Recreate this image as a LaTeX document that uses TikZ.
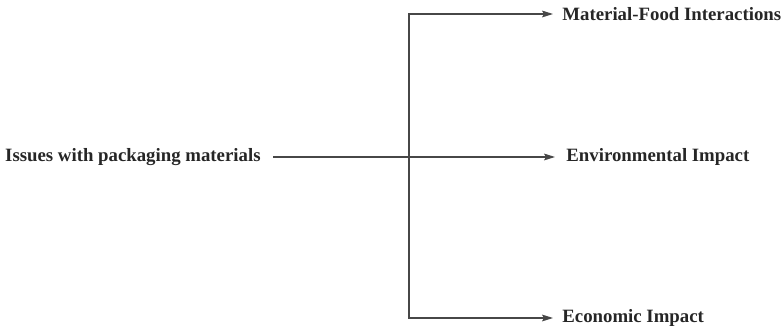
\documentclass[tikz,border=0pt]{standalone}
\usepackage{fontspec}
\setmainfont{Liberation Serif}
\usepackage{xcolor}
\usepackage{tikz}
\usetikzlibrary{arrows.meta}
\definecolor{linegray}{HTML}{474747}
\definecolor{textgray}{HTML}{262626}

\tikzset{
  issue/.style={anchor=west,inner xsep=4.5pt,inner ysep=0pt,text=textgray,
    font=\fontsize{9.4}{11}\selectfont\bfseries},
  branch/.style={-{Stealth[length=5.5pt,width=3.4pt,inset=1pt]},line width=0.6pt,linegray}
}

\begin{document}
\begin{tikzpicture}[x=0.5pt,y=-0.5pt]
  \useasboundingbox (0,0) rectangle (781,330);
  \node[issue,anchor=east,inner xsep=6pt] (src) at (273,157) {Issues with packaging materials};
  \node[issue] (mf) at (553,14) {Material-Food Interactions};
  \node[issue,inner xsep=5.5pt] (env) at (555,157) {Environmental Impact};
  \node[issue] (eco) at (553,318) {Economic Impact};
  \coordinate (jn) at (409,157);
  \draw[branch] (src.east) -- (env.west);
  \draw[branch] (jn) |- (mf.west);
  \draw[branch] (jn) |- (eco.west);
\end{tikzpicture}
\end{document}
